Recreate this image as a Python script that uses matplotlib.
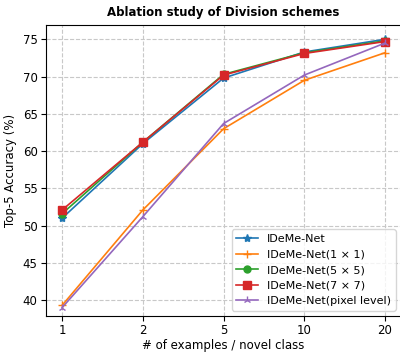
import matplotlib.pyplot as plt
import numpy as np

# data
shots = ['1', '2', '5', '10', '20']
idemenet = [51.0, 61.0, 69.8, 73.3, 75.0]
div_1x1 = [39.3, 52.1, 63.0, 69.5, 73.2]
div_5x5 = [51.6, 61.2, 70.3, 73.2, 74.8]
div_7x7 = [52.1, 61.2, 70.2, 73.1, 74.7]
pixel = [39.0, 51.2, 63.7, 70.2, 74.5]
labels = ['IDeMe-Net', 'IDeMe-Net(1 \u00d7 1)', 'IDeMe-Net(5 \u00d7 5)',
          'IDeMe-Net(7 \u00d7 7)', 'IDeMe-Net(pixel level)']

plt.rcParams['font.size'] = 8.5

fig = plt.figure(figsize=(4.0, 3.54), dpi=100)
ax = fig.add_axes([0.115, 0.107, 0.888, 0.823])

x = np.arange(len(shots))
lw = 1.2
ax.plot(x, idemenet, '-*', color='#1f77b4', lw=lw, markersize=6, label=labels[0])
ax.plot(x, div_1x1, '-+', color='#ff7f0e', lw=lw, markersize=6, label=labels[1])
ax.plot(x, div_5x5, '-o', color='#2ca02c', lw=lw, markersize=5, label=labels[2])
ax.plot(x, div_7x7, '-s', color='#d62728', lw=lw, markersize=6, label=labels[3])
ax.plot(x, pixel, '-2', color='#9467bd', lw=lw, markersize=6, label=labels[4])

ax.set_xticks(x)
ax.set_xticklabels(shots)
ax.tick_params(pad=2.5)
ax.set_xlim(-0.2, 4.2)
ax.set_ylim(37.85, 76.95)
ax.grid(True, linestyle='--', color='#c8c8c8', linewidth=0.8)

ax.set_xlabel('# of examples / novel class', labelpad=1)
ax.set_ylabel('Top-5 Accuracy (%)')
ax.set_title('Ablation study of Division schemes', fontweight='bold', fontsize=8.5)
ax.legend(loc='lower right', fontsize=8)

fig.savefig('out.png', dpi=100)
